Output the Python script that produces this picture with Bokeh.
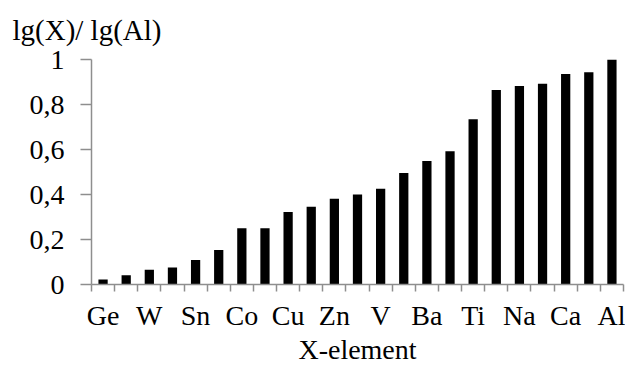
from bokeh.plotting import figure
from bokeh.models import Range1d, FixedTicker, ColumnDataSource
from bokeh.embed import file_html
from bokeh.resources import INLINE

# Data
tick_labels = ["Ge", "W", "Sn", "Co", "Cu", "Zn", "V", "Ba", "Ti", "Na", "Ca", "Al"]
values = [0.022, 0.041, 0.066, 0.076, 0.109, 0.153, 0.25, 0.25, 0.322, 0.346,
          0.381, 0.40, 0.426, 0.496, 0.549, 0.592, 0.734, 0.865, 0.882, 0.892,
          0.936, 0.943, 1.0]
y_ticks = [0, 0.2, 0.4, 0.6, 0.8, 1.0]
y_tick_text = ["0", "0,2", "0,4", "0,6", "0,8", "1"]
y_title = "lg(X)/ lg(Al)"
x_title = "X-element"

positions = list(range(1, len(values) + 1))
label_positions = positions[::2]

FONT = "Liberation Serif"
AXIS_COLOR = "#8e8e8e"
FS = "28px"

p = figure(width=625, height=367, output_backend="svg", toolbar_location=None,
           x_range=Range1d(0.5, len(values) + 0.5), y_range=Range1d(0, 1),
           min_border_left=91, min_border_right=2, min_border_top=59,
           min_border_bottom=79)
p.outline_line_color = None
p.grid.visible = False
p.background_fill_color = "white"
p.border_fill_color = "white"

src = ColumnDataSource(dict(x=positions, top=values))
p.vbar(x="x", top="top", width=0.4, source=src, fill_color="black", line_color=None)

# title (y quantity) at top-left
p.title.text = y_title
p.title.align = "left"
p.title.vertical_align = "top"
p.title.offset = -79
p.title.text_font = FONT
p.title.text_font_size = "29px"
p.title.text_font_style = "normal"
p.title.text_color = "black"
p.title.standoff = 23

# x axis
xa = p.xaxis[0]
xa.ticker = FixedTicker(ticks=label_positions,
                        minor_ticks=[i - 0.5 for i in positions] + [positions[-1] + 0.5])
xa.major_label_overrides = {pos: lab for pos, lab in zip(label_positions, tick_labels)}
xa.major_tick_out = 0
xa.major_tick_in = 0
xa.minor_tick_out = 7
xa.minor_tick_in = 0
xa.minor_tick_line_color = AXIS_COLOR
xa.minor_tick_line_width = 1.5
xa.axis_line_color = AXIS_COLOR
xa.axis_line_width = 1.5
xa.major_label_text_font = FONT
xa.major_label_text_font_size = FS
xa.major_label_text_color = "black"
xa.major_label_standoff = 8
xa.axis_label = x_title
xa.axis_label_text_font = FONT
xa.axis_label_text_font_size = FS
xa.axis_label_text_font_style = "normal"
xa.axis_label_text_color = "black"
xa.axis_label_standoff = 0

# y axis
ya = p.yaxis[0]
ya.ticker = FixedTicker(ticks=y_ticks, minor_ticks=[])
ya.major_label_overrides = {t: s for t, s in zip(y_ticks, y_tick_text)}
ya.major_tick_out = 11
ya.major_tick_in = 0
ya.major_tick_line_color = AXIS_COLOR
ya.major_tick_line_width = 1.5
ya.minor_tick_line_color = None
ya.axis_line_color = AXIS_COLOR
ya.axis_line_width = 1.5
ya.major_label_text_font = FONT
ya.major_label_text_font_size = FS
ya.major_label_text_color = "black"
ya.major_label_standoff = 16

open("out.html", "w").write(file_html(p, INLINE))
